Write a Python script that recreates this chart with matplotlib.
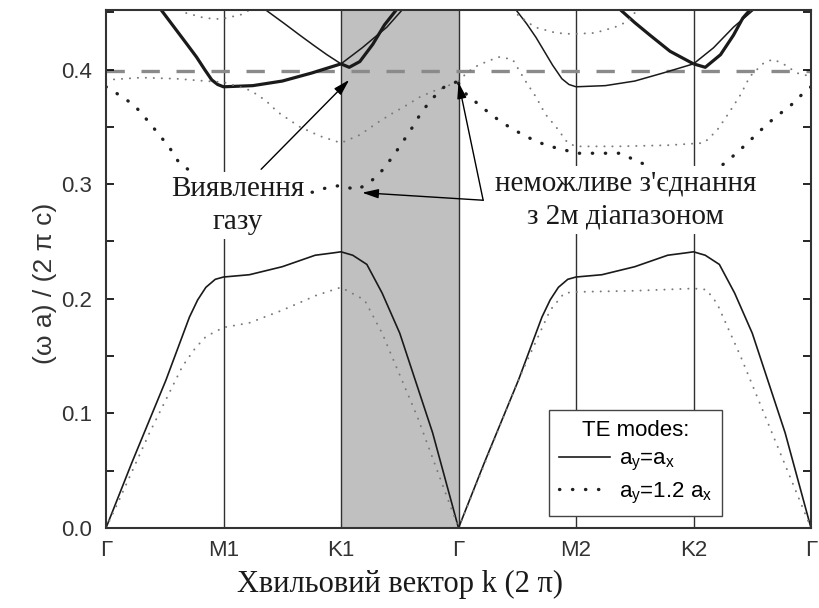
import matplotlib
matplotlib.use("Agg")
import matplotlib.pyplot as plt
from matplotlib.lines import Line2D
from matplotlib.ticker import MultipleLocator, FormatStrFormatter

SANS = ["Liberation Sans", "DejaVu Sans"]
SERIF = ["Liberation Serif", "DejaVu Serif"]

# high-symmetry points along the path
k_ticks = [0, 1, 2, 3, 4, 5, 6]
k_labels = ["Γ", "M1", "K1", "Γ", "M2", "K2", "Γ"]
gap_edge = 0.399  # dashed level

# lowest band, a_y = a_x (same on both halves of the path)
band1_x = [0, 0.22, 0.51, 0.71, 0.78, 0.85, 0.93, 1.0, 1.22, 1.5, 1.78, 1.93, 2.0, 2.1, 2.22, 2.35, 2.5, 2.78, 3.0]
band1_y = [0, 0.057, 0.129, 0.184, 0.199, 0.210, 0.217, 0.219, 0.221, 0.228, 0.238, 0.240, 0.241, 0.238, 0.230,
           0.205, 0.170, 0.083, 0]

# lowest band, a_y = 1.2 a_x
band1_dot_left_x = [0, 0.11, 0.37, 0.65, 0.76, 0.85, 1.0, 1.22, 1.5, 1.79, 2.0, 2.2, 2.35, 2.65, 3.0]
band1_dot_left_y = [0, 0.024, 0.083, 0.141, 0.157, 0.167, 0.175, 0.179, 0.190, 0.203, 0.210, 0.199, 0.170, 0.097, 0]
band1_dot_right_x = [3.0, 3.21, 3.5, 3.78, 3.9, 4.0, 4.5, 5.0, 5.11, 5.2, 5.4, 5.62, 5.8, 6.0]
band1_dot_right_y = [0, 0.053, 0.127, 0.190, 0.205, 0.206, 0.207, 0.209, 0.208, 0.196, 0.150, 0.095, 0.050, 0]

# upper solid branches: (x, y, bold)
upper_solid = [
    ([0.47, 0.58, 0.69, 0.77, 0.84, 0.90, 0.95, 1.0, 1.25, 1.5, 1.75, 2.0],
     [0.452, 0.437, 0.422, 0.411, 0.400, 0.391, 0.387, 0.385, 0.386, 0.390, 0.397, 0.405], True),
    ([2.0, 2.07, 2.16, 2.27, 2.37, 2.47],
     [0.405, 0.402, 0.407, 0.422, 0.439, 0.452], True),
    ([1.36, 1.52, 1.65, 1.77, 1.88, 2.0],
     [0.452, 0.440, 0.430, 0.421, 0.413, 0.405], False),
    ([2.0, 2.18, 2.39, 2.52],
     [0.405, 0.419, 0.437, 0.452], False),
    ([3.49, 3.58, 3.66, 3.73, 3.80, 3.88, 3.94, 4.0],
     [0.452, 0.440, 0.428, 0.416, 0.404, 0.392, 0.387, 0.385], False),
    ([4.0, 4.25, 4.5, 4.74, 5.0],
     [0.385, 0.386, 0.390, 0.397, 0.405], False),
    ([4.38, 4.5, 4.63, 4.8, 5.0],
     [0.452, 0.441, 0.430, 0.416, 0.405], True),
    ([5.0, 5.1, 5.23, 5.34, 5.42, 5.48],
     [0.405, 0.402, 0.413, 0.430, 0.445, 0.452], True),
    ([5.0, 5.17, 5.34, 5.51],
     [0.405, 0.419, 0.437, 0.452], False),
]

# upper bands, a_y = 1.2 a_x (fine dots)
upper_fine = [
    ([0, 0.3, 0.6, 0.85, 1.0, 1.2, 1.29, 1.37, 1.46, 1.65, 1.82, 2.0, 2.16, 2.33, 2.44, 2.56, 2.67, 2.78, 2.87, 3.0],
     [0.391, 0.393, 0.392, 0.390, 0.389, 0.383, 0.378, 0.372, 0.363, 0.350, 0.342, 0.336, 0.343, 0.355, 0.362,
      0.369, 0.376, 0.381, 0.384, 0.390]),
    ([0.62, 0.66, 0.84, 0.98, 1.15, 1.22],
     [0.452, 0.450, 0.445, 0.444, 0.448, 0.452]),
    ([3.0, 3.08, 3.17, 3.34, 3.46, 3.57, 3.66, 3.74, 3.83, 3.93, 4.0, 4.36, 4.78, 5.09, 5.2, 5.3, 5.4, 5.48,
      5.6, 5.68, 5.78, 5.88, 6.0],
     [0.390, 0.398, 0.404, 0.411, 0.409, 0.390, 0.376, 0.361, 0.350, 0.336, 0.333, 0.333, 0.334, 0.336, 0.347,
      0.362, 0.378, 0.394, 0.406, 0.409, 0.404, 0.397, 0.394]),
    ([3.45, 3.54, 3.65, 3.83, 3.97, 4.16, 4.33, 4.44, 4.52],
     [0.452, 0.445, 0.437, 0.432, 0.431, 0.432, 0.437, 0.442, 0.452]),
]

# upper band, a_y = 1.2 a_x (coarse dots)
upper_coarse = [
    ([0, 0.11, 0.24, 0.35, 0.43, 0.54, 0.62, 0.8, 1.0, 1.4, 1.76, 1.88, 2.0, 2.13, 2.24, 2.35, 2.44, 2.52, 2.61,
      2.68, 2.77, 2.88, 3.0],
     [0.385, 0.378, 0.369, 0.356, 0.346, 0.332, 0.319, 0.305, 0.297, 0.293, 0.293, 0.297, 0.299, 0.295, 0.301,
      0.312, 0.324, 0.336, 0.350, 0.362, 0.374, 0.385, 0.390]),
    ([3.0, 3.05, 3.19, 3.3, 3.43, 3.55, 3.67, 3.78, 3.9, 4.0, 4.15, 4.27, 4.38, 4.5, 4.75, 5.0, 5.2, 5.32, 5.45,
      5.56, 5.69, 5.82, 5.94, 6.0],
     [0.388, 0.380, 0.368, 0.359, 0.350, 0.343, 0.337, 0.333, 0.330, 0.327, 0.327, 0.327, 0.327, 0.321, 0.310,
      0.300, 0.313, 0.323, 0.335, 0.346, 0.358, 0.368, 0.380, 0.385]),
]

FINE = dict(color="#7a7a7a", lw=1.4, linestyle=(0, (0.1, 4.0)), dash_capstyle="round")
COARSE = dict(color="#202020", lw=2.4, linestyle=(0, (0.1, 3.8)), dash_capstyle="round")

fig = plt.figure(figsize=(8.19, 6.08), dpi=100)
ax = fig.add_axes([106 / 819, 80 / 608, 705 / 819, 518 / 608])

ax.axvspan(2, 3, color="#c0c0c0", zorder=0.5, lw=0)
for k in k_ticks[1:-1]:
    ax.axvline(k, color="#303030", lw=1.0, zorder=1)
ax.axhline(gap_edge, color="#8a8a8a", lw=2.4, linestyle=(0, (5.5, 5)), zorder=1.5)

for off in (0, 3):
    ax.plot([x + off for x in band1_x], band1_y, color="#1a1a1a", lw=1.2, zorder=2)
ax.plot(band1_dot_left_x, band1_dot_left_y, zorder=2, **FINE)
ax.plot(band1_dot_right_x, band1_dot_right_y, zorder=2, **FINE)

for xs, ys, bold in upper_solid:
    ax.plot(xs, ys, color="#1a1a1a", lw=2.3 if bold else 1.1, zorder=2, solid_capstyle="butt")
for xs, ys in upper_fine:
    ax.plot(xs, ys, zorder=2, **FINE)
for xs, ys in upper_coarse:
    ax.plot(xs, ys, zorder=2, **COARSE)

box = dict(facecolor="white", edgecolor="none", pad=3)
ax.text(1.12, 0.307, "Виявлення\nгазу", family=SERIF, fontsize=21, ha="center", va="top",
        linespacing=1.35, bbox=box, zorder=3, color="#1a1a1a")
ax.text(4.42, 0.312, "неможливе з'єднання\nз 2м діапазоном", family=SERIF, fontsize=21, ha="center",
        va="top", linespacing=1.35, bbox=box, zorder=3, color="#1a1a1a")

arrow = dict(arrowstyle="-|>,head_length=0.7,head_width=0.2", color="k", lw=1.0,
             shrinkA=0, shrinkB=0, mutation_scale=14)
ax.annotate("", xy=(2.07, 0.391), xytext=(1.32, 0.313), arrowprops=arrow, zorder=4)
ax.annotate("", xy=(2.18, 0.2926), xytext=(3.21, 0.286), arrowprops=arrow, zorder=4)
ax.annotate("", xy=(3.0, 0.389), xytext=(3.21, 0.286), arrowprops=arrow, zorder=4)

ax.set_xlim(0, 6)
ax.set_ylim(0, 0.452)
ax.set_xticks(k_ticks)
ax.set_xticklabels(k_labels, family=SANS, fontsize=16)
ax.tick_params(axis="x", direction="in", length=0, pad=9)
ax.yaxis.set_major_locator(MultipleLocator(0.1))
ax.yaxis.set_minor_locator(MultipleLocator(0.05))
ax.yaxis.set_major_formatter(FormatStrFormatter("%.1f"))
ax.tick_params(axis="y", which="both", direction="in", right=True, length=6, width=1.2,
               labelsize=16, pad=10)
for lab in ax.get_yticklabels() + ax.get_xticklabels():
    lab.set_family(SANS)
    lab.set_color("#333333")
for sp in ax.spines.values():
    sp.set_linewidth(1.5)
    sp.set_color("#333333")

ax.set_xlabel("Хвильовий вектор k (2 π)", family=SERIF, fontsize=22, color="#1a1a1a")
ax.xaxis.set_label_coords(0.417, -0.08)
ax.set_ylabel("(ω a) / (2 π c)", family=SANS, fontsize=19, color="#333333")
ax.yaxis.set_label_coords(-0.07, 0.473)

handles = [Line2D([], [], color="#1a1a1a", lw=1.2),
           Line2D([], [], **COARSE)]
labels = [r"a$_\mathregular{y}$=a$_\mathregular{x}$", r"a$_\mathregular{y}$=1.2 a$_\mathregular{x}$"]
leg = ax.legend(handles, labels, title="TE modes:", loc="center", bbox_to_anchor=(0.751, 0.126),
                prop={"family": SANS, "size": 16}, title_fontproperties={"family": SANS, "size": 16},
                fancybox=False, framealpha=1, edgecolor="#444444", handlelength=2.3, handletextpad=0.4,
                borderpad=0.45, labelspacing=0.35, borderaxespad=0)
leg.get_frame().set_linewidth(1.0)
leg.set_zorder(5)

fig.savefig("out.png", dpi=100)
